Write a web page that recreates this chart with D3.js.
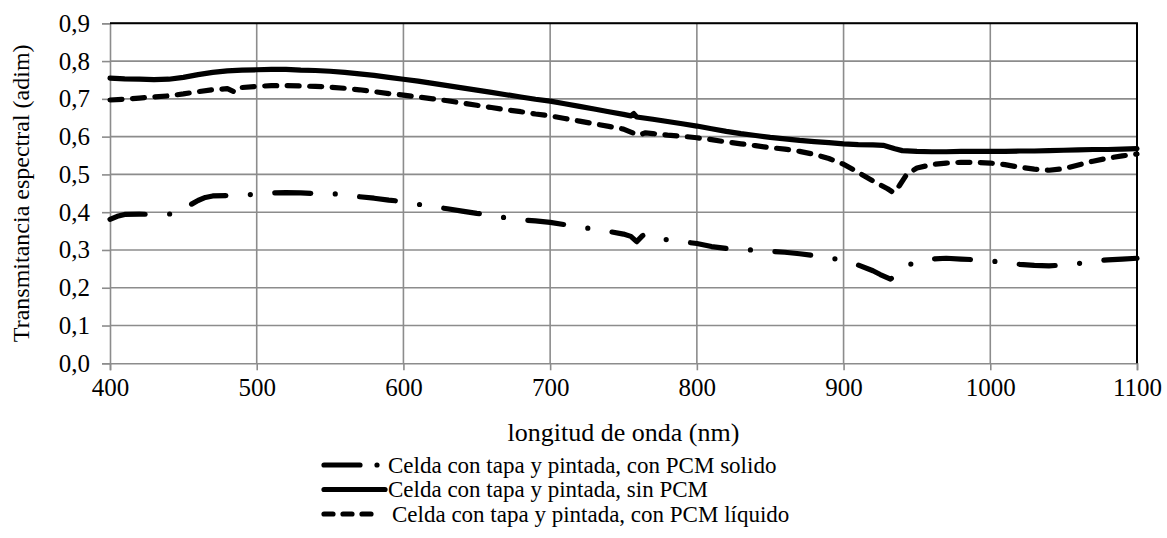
<!DOCTYPE html>
<html>
<head>
<meta charset="utf-8">
<style>
  body { margin: 0; background: #fff; }
</style>
</head>
<body>
<div id="chart"></div>
<script src="https://cdnjs.cloudflare.com/ajax/libs/d3/7.8.5/d3.min.js"></script>
<script>

// tick values
var xTicks = [400, 500, 600, 700, 800, 900, 1000, 1100];
var yTicks = [0, 0.1, 0.2, 0.3, 0.4, 0.5, 0.6, 0.7, 0.8, 0.9];

// series names
var seriesNames = [
    "Celda con tapa y pintada, con PCM solido",
    "Celda con tapa y pintada, sin PCM",
    "Celda con tapa y pintada, con PCM líquido"
];

// con PCM solido (dash-dot)
var solidoNm = [400, 405, 410, 420, 430, 440, 445, 450, 455, 460, 465, 470, 480, 490, 500, 510, 520, 530, 540, 550,
    560, 570, 580, 590, 600, 610, 620, 630, 640, 650, 660, 670, 680, 690, 700, 710, 720, 730, 740, 750,
    755, 759, 763, 766, 770, 780, 790, 800, 810, 820, 830, 840, 850, 860, 870, 880, 890, 900, 910, 920,
    925, 932, 936, 940, 950, 960, 970, 980, 990, 1000, 1010, 1020, 1030, 1040, 1050, 1060, 1070, 1080, 1090, 1100];
var solidoVal = [0.381, 0.389, 0.394, 0.395, 0.394, 0.395, 0.397, 0.408, 0.420, 0.431, 0.439, 0.443, 0.444, 0.445, 0.448, 0.451, 0.452, 0.451, 0.449, 0.449,
    0.447, 0.441, 0.437, 0.432, 0.428, 0.421, 0.415, 0.409, 0.403, 0.397, 0.392, 0.385, 0.380, 0.377, 0.373, 0.367, 0.361, 0.355, 0.349, 0.342,
    0.336, 0.322, 0.338, 0.342, 0.334, 0.327, 0.322, 0.317, 0.309, 0.304, 0.302, 0.299, 0.296, 0.294, 0.290, 0.285, 0.279, 0.273, 0.260, 0.245,
    0.235, 0.223, 0.235, 0.252, 0.270, 0.276, 0.278, 0.276, 0.274, 0.271, 0.267, 0.262, 0.259, 0.258, 0.260, 0.264, 0.270, 0.274, 0.276, 0.278];

// sin PCM (solid)
var sinNm = [400, 410, 420, 430, 440, 450, 460, 470, 480, 490, 500, 510, 520, 530, 540, 550, 560, 570, 580, 590,
    600, 610, 620, 630, 640, 650, 660, 670, 680, 690, 700, 710, 720, 730, 740, 750, 755, 757, 759, 770,
    780, 790, 800, 810, 820, 830, 840, 850, 860, 870, 880, 890, 900, 910, 920, 927, 935, 940, 950, 960,
    970, 980, 990, 1000, 1010, 1020, 1030, 1040, 1050, 1060, 1070, 1080, 1090, 1100];
var sinVal = [0.755, 0.753, 0.752, 0.751, 0.752, 0.757, 0.764, 0.770, 0.774, 0.776, 0.777, 0.778, 0.778, 0.776, 0.775, 0.773, 0.770, 0.766, 0.762, 0.757,
    0.752, 0.747, 0.741, 0.735, 0.729, 0.723, 0.717, 0.711, 0.705, 0.699, 0.694, 0.687, 0.680, 0.673, 0.666, 0.659, 0.655, 0.661, 0.652, 0.646,
    0.640, 0.634, 0.628, 0.621, 0.614, 0.608, 0.603, 0.598, 0.594, 0.590, 0.587, 0.584, 0.581, 0.579, 0.578, 0.577, 0.568, 0.563, 0.561, 0.560,
    0.560, 0.561, 0.561, 0.561, 0.561, 0.562, 0.562, 0.563, 0.564, 0.565, 0.566, 0.566, 0.567, 0.568];

// con PCM liquido (dashed)
var liquidoNm = [400, 410, 420, 430, 440, 450, 460, 470, 480, 485, 488, 490, 500, 510, 520, 530, 540, 550, 560, 570,
    580, 590, 600, 610, 620, 630, 640, 650, 660, 670, 680, 690, 700, 710, 720, 730, 740, 750, 755, 760,
    765, 770, 780, 790, 800, 810, 820, 830, 840, 850, 860, 870, 880, 890, 900, 910, 920, 930, 934, 938,
    943, 950, 960, 970, 980, 990, 1000, 1010, 1020, 1030, 1040, 1050, 1060, 1070, 1080, 1090, 1100];
var liquidoVal = [0.697, 0.699, 0.702, 0.705, 0.708, 0.713, 0.719, 0.724, 0.727, 0.718, 0.727, 0.730, 0.733, 0.735, 0.735, 0.734, 0.733, 0.731, 0.728, 0.724,
    0.719, 0.714, 0.710, 0.705, 0.700, 0.695, 0.689, 0.683, 0.677, 0.671, 0.666, 0.660, 0.655, 0.648, 0.641, 0.634, 0.627, 0.620, 0.612, 0.604,
    0.610, 0.608, 0.604, 0.601, 0.597, 0.592, 0.586, 0.581, 0.576, 0.571, 0.567, 0.561, 0.553, 0.542, 0.527, 0.505, 0.483, 0.462, 0.452, 0.470,
    0.500, 0.517, 0.526, 0.530, 0.532, 0.532, 0.530, 0.526, 0.519, 0.514, 0.511, 0.515, 0.525, 0.535, 0.543, 0.549, 0.554];


var W = 1167, H = 538;
var margin = {top: 23.3, right: 30, bottom: 174.7, left: 110};
var width = W - margin.left - margin.right,
    height = H - margin.top - margin.bottom;
var font = "Liberation Serif";

var svg = d3.select("#chart").append("svg")
    .attr("width", W)
    .attr("height", H);

var g = svg.append("g")
    .attr("transform", "translate(" + margin.left + "," + margin.top + ")");

var x = d3.scaleLinear().domain([400, 1100]).range([0, width]);
var y = d3.scaleLinear().domain([0, 0.9]).range([height, 0]);

var gridColor = "#8c8c8c";

// gridlines
g.append("g").selectAll("line").data(yTicks.slice(1)).enter().append("line")
    .attr("x1", 0).attr("x2", width)
    .attr("y1", function(d) { return y(d); }).attr("y2", function(d) { return y(d); })
    .attr("stroke", gridColor).attr("stroke-width", 1.6);
g.append("g").selectAll("line").data(xTicks.slice(1)).enter().append("line")
    .attr("y1", 0).attr("y2", height)
    .attr("x1", function(d) { return x(d); }).attr("x2", function(d) { return x(d); })
    .attr("stroke", gridColor).attr("stroke-width", 1.6);

// axes
var xAxis = g.append("g")
    .attr("transform", "translate(0," + height + ")")
    .call(d3.axisBottom(x).tickValues(xTicks).tickSize(7).tickPadding(8).tickFormat(d3.format("d")));
var yAxis = g.append("g")
    .call(d3.axisLeft(y).tickValues(yTicks).tickSize(8).tickPadding(12)
        .tickFormat(function(d) { return d3.format(".1f")(d).replace(".", ","); }));

[xAxis, yAxis].forEach(function(a) {
    a.attr("font-family", null).attr("font-size", null);
    a.select(".domain").attr("stroke", gridColor).attr("stroke-width", 1.6);
    a.selectAll(".tick line").attr("stroke", gridColor).attr("stroke-width", 1.6);
    a.selectAll("text")
        .attr("font-family", font)
        .attr("font-size", 25)
        .attr("fill", "#000");
});

// top and right border in black
g.append("path")
    .attr("d", "M0,0H" + width + "V" + height)
    .attr("fill", "none").attr("stroke", "#000").attr("stroke-width", 2);

// lines
var lineGen = d3.line()
    .x(function(d) { return x(d[0]); })
    .y(function(d) { return y(d[1]); });

var series = [
    {nm: solidoNm, val: solidoVal, dash: "36,24.5,0,24.5"},
    {nm: sinNm, val: sinVal, dash: null},
    {nm: liquidoNm, val: liquidoVal, dash: "12,10.5"}
];

series.forEach(function(s) {
    g.append("path")
        .datum(d3.zip(s.nm, s.val))
        .attr("d", lineGen)
        .attr("fill", "none")
        .attr("stroke", "#000")
        .attr("stroke-width", 5.2)
        .attr("stroke-linecap", "round")
        .attr("stroke-linejoin", "round")
        .attr("stroke-dasharray", s.dash);
});

// axis titles
svg.append("text")
    .attr("x", margin.left + width / 2)
    .attr("y", 441)
    .attr("text-anchor", "middle")
    .attr("font-family", font)
    .attr("font-size", 26)
    .attr("fill", "#000")
    .text("longitud de onda (nm)");

svg.append("text")
    .attr("transform", "translate(29," + (margin.top + height / 2) + ") rotate(-90)")
    .attr("text-anchor", "middle")
    .attr("font-family", font)
    .attr("font-size", 24)
    .attr("fill", "#000")
    .text("Transmitancia espectral (adim)");

// legend
var legendDash = ["36,17,0,100", null, "9,10"];
var legendEnd = [380, 385, 378];
var legend = svg.append("g");
seriesNames.forEach(function(name, i) {
    var ly = 465 + i * 24.5;
    legend.append("path")
        .attr("d", "M324," + ly + "H" + legendEnd[i])
        .attr("fill", "none")
        .attr("stroke", "#000")
        .attr("stroke-width", 5.2)
        .attr("stroke-linecap", "round")
        .attr("stroke-dasharray", legendDash[i]);
    legend.append("text")
        .attr("x", i == 2 ? 392 : 388)
        .attr("y", ly + 7.5)
        .attr("font-family", font)
        .attr("font-size", 23)
        .attr("fill", "#000")
        .text(name);
});

</script>
</body>
</html>
